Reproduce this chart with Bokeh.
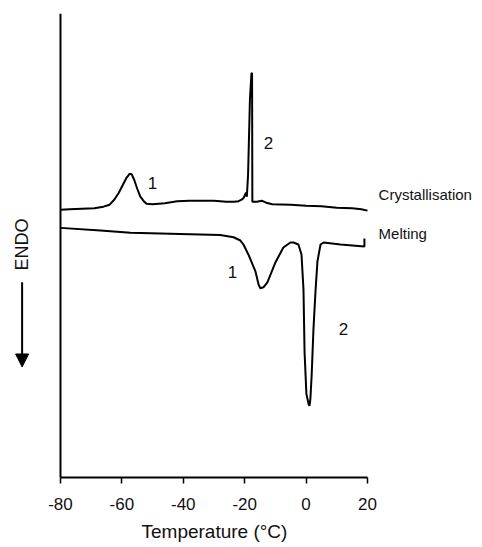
import math
from bokeh.plotting import figure
from bokeh.models import Range1d, FixedTicker, LinearAxis, Span, Arrow, NormalHead, Title
from bokeh.core.properties import value
from bokeh.embed import file_html
from bokeh.resources import INLINE

# Crystallisation curve (temperature in °C, heat flow in arbitrary units)
crys_T = [-80, -77, -73, -69, -66, -64, -62.5, -61, -59.5, -58.5, -57.5, -56.8, -56, -55, -54, -53, -52,
          -50, -46, -42, -38, -34, -30, -26, -23.5, -22, -21, -20.3, -19.6, -19.3, -18.9, -18.3, -17.8,
          -17.6, -17.5, -16, -14.5, -13, -11, -5, 0, 5, 10, 15, 18, 20]
crys_y = [26.9, 26.95, 27.0, 27.05, 27.2, 27.4, 27.9, 28.6, 29.5, 30.1, 30.5, 30.45, 29.9, 29.0, 28.2, 27.8, 27.5,
          27.45, 27.55, 27.75, 27.8, 27.8, 27.8, 27.7, 27.7, 27.75, 27.9, 28.1, 28.6, 28.2, 30.4, 37.9, 40.6,
          40.6, 27.7, 27.7, 27.8, 27.6, 27.45, 27.4, 27.3, 27.25, 27.1, 27.05, 26.95, 26.8]

# Melting curve
melt_T = [-80, -67, -57.2, -41, -28, -23.6, -21.4, -20.4, -18.8, -16.5, -15.5, -14.9, -13.9, -12.6, -11.3,
          -10.0, -7.4, -5.1, -4.1, -2.5, -1.5, -0.85, -0.5, 0.1, 0.8, 1.1, 1.4, 1.8, 2.4, 3.1, 3.7, 4.7,
          5.7, 11.2, 19.0, 19.0]
melt_y = [25.07, 24.8, 24.57, 24.45, 24.35, 24.13, 23.8, 23.4, 22.4, 20.7, 19.4, 19.0, 19.1, 19.6, 20.6,
          21.6, 23.1, 23.6, 23.6, 23.4, 22.4, 18.9, 12.6, 8.4, 7.4, 7.2, 7.9, 10.2, 14.9, 18.9, 21.7, 23.4,
          23.6, 23.4, 23.2, 24.0]

x_min, x_max = -80, 20
x_ticks = [-80, -60, -40, -20, 0, 20]
x_tick_labels = ["-80", "-60", "-40", "-20", "0", "20"]

# peak annotations
peak_text = ["1", "2", "1", "2"]
peak_x = [-50.0, -12.25, -24.0, 12.2]
peak_y = [29.6, 33.6, 20.6, 14.9]

curve_names = ["Crystallisation", "Melting"]
curve_name_x = [23.6, 23.6]
curve_name_y = [28.4, 24.5]

endo_x, endo_y = -92.4, 23.4
arrow_x, arrow_y0, arrow_y1 = -92.5, 19.6, 11.1

FONT = "Liberation Sans"
INK = "#111111"

p = figure(width=482, height=547, output_backend="svg", toolbar_location=None,
           x_axis_type=None, y_axis_type=None,
           x_range=Range1d(-99.54, 57.46), y_range=Range1d(0, 46.6),
           min_border_left=0, min_border_right=0, min_border_top=13, min_border_bottom=68)
p.outline_line_color = None
p.grid.visible = False
p.background_fill_color = "white"
p.border_fill_color = "white"

xa = LinearAxis(bounds=(x_min, x_max), ticker=FixedTicker(ticks=x_ticks))
xa.major_label_overrides = {t: s for t, s in zip(x_ticks, x_tick_labels)}
xa.minor_tick_line_color = None
xa.major_tick_in = 0
xa.major_tick_out = 6
xa.major_tick_line_width = 1.5
xa.axis_line_width = 2
xa.axis_line_color = "black"
xa.major_tick_line_color = "black"
xa.major_label_text_font = FONT
xa.major_label_text_font_size = "17px"
xa.major_label_text_color = INK
xa.major_label_standoff = 14
p.add_layout(xa, "below")

p.add_layout(Title(text="Temperature (°C)", align="left", offset=141, standoff=12,
                   text_font=FONT, text_font_size="19px", text_font_style="normal",
                   text_color=INK), "below")

p.add_layout(Span(location=x_min, dimension="height", line_color="black", line_width=2))

p.line(crys_T, crys_y, line_color="black", line_width=2)
p.line(melt_T, melt_y, line_color="black", line_width=2)

p.text(peak_x, peak_y, text=peak_text, text_font=value(FONT), text_font_size="17px",
       text_align="center", text_baseline="middle", text_color=INK)
p.text(curve_name_x, curve_name_y, text=curve_names, text_font=value(FONT), text_font_size="15px",
       text_align="left", text_baseline="middle", text_color=INK)
p.text([endo_x], [endo_y], text=["ENDO"], angle=math.pi / 2, text_font=value(FONT),
       text_font_size="18px", text_align="center", text_baseline="middle", text_color=INK)

p.add_layout(Arrow(x_start=arrow_x, y_start=arrow_y0, x_end=arrow_x, y_end=arrow_y1,
                   line_color="black", line_width=2,
                   end=NormalHead(size=13, fill_color="black", line_color="black")))

open("out.html", "w").write(file_html(p, INLINE))
